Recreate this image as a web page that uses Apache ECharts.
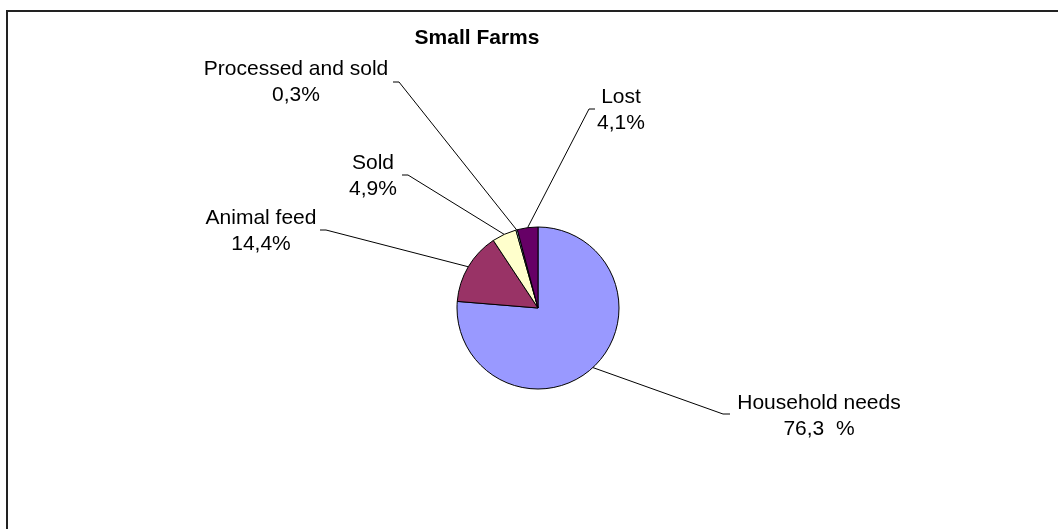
<!DOCTYPE html>
<html lang="en">
<head>
    <meta charset="UTF-8">
    <title>Small Farms</title>
    <script src="https://cdn.jsdelivr.net/npm/echarts@6.0.0/dist/echarts.min.js"></script>
    <style>
        html, body { margin: 0; padding: 0; background: #fff; }
        #container { width: 1058px; height: 529px; }
    </style>
</head>
<body>
<div id="container"></div>
<script>
    // slices, clockwise from 12 o'clock
    var categories = ['Household needs', 'Animal feed', 'Sold', 'Processed and sold', 'Lost'];
    var shares = [76.3, 14.4, 4.9, 0.3, 4.1];
    var shareLabels = ['76,3  %', '14,4%', '4,9%', '0,3%', '4,1%'];
    var colors = ['#9999FF', '#993366', '#FFFFCC', '#CCFFFF', '#660066'];

    // label block centre [x, y] and where its leader line meets it [x, y, tick]
    var labelPos = [[819, 416], [261, 231], [373, 176], [296, 82], [621, 110]];
    var leaderEnd = [[730, 414, -7], [320, 230, 6], [402, 175, 6], [393, 82, 6], [595, 109, -6]];

    var fontFamily = '"Liberation Sans", Arial, Helvetica, sans-serif';

    var data = [];
    for (var i = 0; i < categories.length; i++) {
        data.push({ name: categories[i], value: shares[i], itemStyle: { color: colors[i] } });
    }

    var options = {
        animation: false,
        backgroundColor: '#fff',
        title: {
            text: 'Small Farms',
            left: 472,
            top: 33,
            textAlign: 'center',
            textVerticalAlign: 'middle',
            textStyle: {
                fontFamily: fontFamily,
                fontSize: 21,
                fontWeight: 'bold',
                color: '#000'
            }
        },
        graphic: [
            {
                type: 'polyline',
                shape: { points: [[7, 529], [7, 11], [1058, 11]] },
                style: { stroke: '#222', lineWidth: 2, fill: null },
                silent: true
            }
        ],
        series: [
            {
                type: 'pie',
                center: [538, 308],
                radius: 81,
                startAngle: 90,
                clockwise: true,
                data: data,
                itemStyle: { borderColor: '#000', borderWidth: 1 },
                emphasis: { disabled: true },
                label: {
                    show: true,
                    position: 'outside',
                    fontFamily: fontFamily,
                    fontSize: 21,
                    lineHeight: 26,
                    color: '#000',
                    align: 'center',
                    formatter: function (p) {
                        return p.name + '\n' + shareLabels[p.dataIndex];
                    }
                },
                labelLine: {
                    show: true,
                    lineStyle: { color: '#000', width: 1 }
                },
                labelLayout: function (p) {
                    var pos = labelPos[p.dataIndex];
                    var end = leaderEnd[p.dataIndex];
                    var edge = p.labelLinePoints ? p.labelLinePoints[0] : [pos[0], pos[1]];
                    return {
                        x: pos[0],
                        y: pos[1],
                        align: 'center',
                        verticalAlign: 'middle',
                        labelLinePoints: [edge, [end[0] + end[2], end[1]], [end[0], end[1]]]
                    };
                }
            }
        ]
    };

    var myChart = echarts.init(document.getElementById('container'));
    myChart.setOption(options);
</script>
</body>
</html>
